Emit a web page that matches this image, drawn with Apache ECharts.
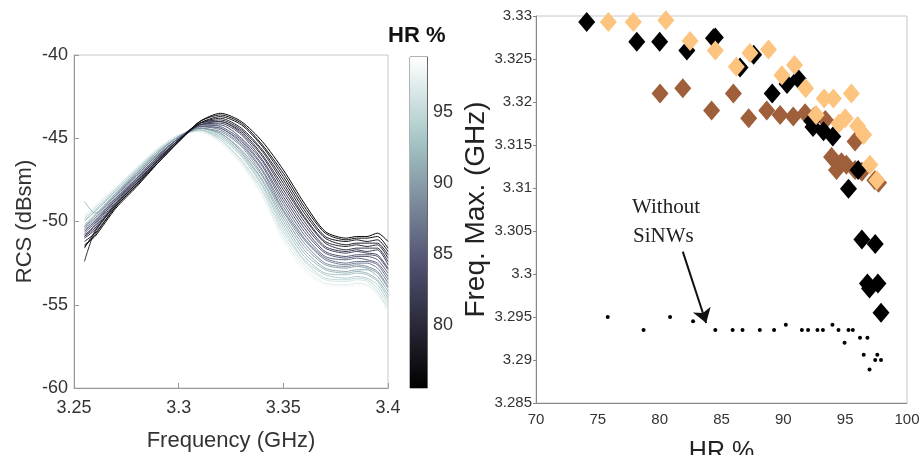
<!DOCTYPE html>
<html><head><meta charset="utf-8">
<script src="https://cdn.jsdelivr.net/npm/echarts@6/dist/echarts.min.js"></script>
<style>html,body{margin:0;padding:0;background:#fff}#c{width:919px;height:455px}</style>
</head><body><div id="c"></div>
<script>
// ---------- Left panel: RCS spectra ----------
const freqs = [3.255,3.26,3.27,3.28,3.29,3.30,3.31,3.32,3.33,3.34,3.35,3.36,3.37,3.38,3.385,3.39,3.395,3.4];
const curveHR = [76,77,78,79,80,81,82,83,84,85,86,87,88,89,90,91,92,93,94,95,96,97,98];
const rcsValues = [
 [-51.4,-50.9,-49.2,-47.9,-46.5,-45.2,-44.0,-43.5,-44.0,-45.2,-46.9,-48.9,-50.6,-51.0,-50.9,-50.9,-50.7,-51.2],
 [-51.5,-50.8,-49.1,-47.8,-46.5,-45.2,-44.0,-43.6,-44.1,-45.4,-47.1,-49.1,-50.7,-51.1,-51.0,-51.0,-50.9,-51.6],
 [-51.2,-50.7,-49.1,-47.8,-46.4,-45.2,-44.1,-43.7,-44.2,-45.5,-47.3,-49.3,-50.9,-51.2,-51.1,-51.2,-51.1,-51.8],
 [-51.6,-50.6,-49.0,-47.7,-46.4,-45.1,-44.1,-43.8,-44.4,-45.7,-47.5,-49.5,-51.0,-51.4,-51.3,-51.3,-51.3,-52.0],
 [-52.4,-50.6,-49.0,-47.7,-46.3,-45.1,-44.1,-43.9,-44.5,-45.8,-47.7,-49.7,-51.2,-51.5,-51.4,-51.5,-51.4,-52.2],
 [-51.0,-50.5,-48.9,-47.6,-46.3,-45.1,-44.1,-44.0,-44.6,-46.0,-47.9,-49.8,-51.3,-51.7,-51.6,-51.6,-51.6,-52.4],
 [-50.9,-50.4,-48.9,-47.6,-46.3,-45.1,-44.2,-44.0,-44.7,-46.1,-48.1,-50.0,-51.5,-51.8,-51.7,-51.8,-51.7,-52.6],
 [-50.8,-50.3,-48.8,-47.5,-46.2,-45.1,-44.2,-44.1,-44.8,-46.3,-48.3,-50.2,-51.6,-51.9,-51.8,-51.9,-52.0,-52.8],
 [-50.9,-50.2,-48.7,-47.5,-46.2,-45.1,-44.2,-44.2,-45.0,-46.4,-48.5,-50.4,-51.8,-52.1,-52.0,-52.0,-52.1,-52.9],
 [-50.7,-50.1,-48.7,-47.4,-46.1,-45.0,-44.2,-44.3,-45.1,-46.6,-48.7,-50.6,-51.9,-52.2,-52.1,-52.1,-52.3,-53.1],
 [-50.6,-50.0,-48.6,-47.4,-46.1,-45.0,-44.3,-44.4,-45.2,-46.7,-48.9,-50.8,-52.1,-52.3,-52.2,-52.3,-52.5,-53.3],
 [-50.5,-50.0,-48.6,-47.3,-46.1,-45.0,-44.3,-44.4,-45.3,-46.9,-49.1,-51.0,-52.2,-52.5,-52.4,-52.4,-52.6,-53.5],
 [-50.4,-49.9,-48.5,-47.2,-46.0,-45.0,-44.3,-44.5,-45.4,-47.0,-49.3,-51.1,-52.3,-52.6,-52.5,-52.5,-52.8,-53.7],
 [-50.3,-49.8,-48.4,-47.2,-46.0,-45.0,-44.4,-44.6,-45.5,-47.2,-49.4,-51.3,-52.5,-52.7,-52.6,-52.7,-53.0,-53.9],
 [-50.3,-49.7,-48.4,-47.1,-45.9,-44.9,-44.4,-44.7,-45.7,-47.3,-49.6,-51.5,-52.6,-52.8,-52.7,-52.8,-53.1,-54.0],
 [-50.2,-49.6,-48.3,-47.1,-45.9,-44.9,-44.4,-44.7,-45.8,-47.5,-49.8,-51.7,-52.8,-53.0,-52.9,-52.9,-53.3,-54.2],
 [-48.8,-49.5,-48.3,-47.0,-45.8,-44.9,-44.4,-44.8,-45.9,-47.6,-50.0,-51.9,-52.9,-53.1,-53.0,-53.1,-53.5,-54.4],
 [-50.0,-49.4,-48.2,-47.0,-45.8,-44.9,-44.5,-44.9,-46.0,-47.8,-50.2,-52.1,-53.1,-53.2,-53.1,-53.2,-53.6,-54.6],
 [-49.9,-49.4,-48.1,-46.9,-45.8,-44.9,-44.5,-45.0,-46.1,-47.9,-50.4,-52.3,-53.2,-53.4,-53.3,-53.4,-53.8,-54.8],
 [-49.8,-49.3,-48.1,-46.9,-45.7,-44.9,-44.5,-45.1,-46.3,-48.1,-50.6,-52.4,-53.4,-53.5,-53.4,-53.5,-54.0,-55.0],
 [-49.8,-49.2,-48.0,-46.8,-45.7,-44.8,-44.5,-45.1,-46.4,-48.2,-50.8,-52.6,-53.5,-53.6,-53.5,-53.6,-54.2,-55.2],
 [-49.7,-49.1,-48.0,-46.8,-45.6,-44.8,-44.6,-45.2,-46.5,-48.4,-51.0,-52.8,-53.7,-53.8,-53.7,-53.8,-54.3,-55.3],
 [-49.6,-49.0,-47.9,-46.7,-45.6,-44.8,-44.6,-45.3,-46.6,-48.5,-51.2,-53.0,-53.8,-53.9,-53.8,-53.9,-54.4,-55.5]
];
const freqTicks = [3.25, 3.4, 0.05];
const rcsTicks = [-60, -40, 5];
const hrRange = [75.6, 98.9];
const colorbarTicks = [80, 85, 90, 95];

// ---------- Right panel: frequency of maximum vs HR ----------
const blackPts = [
 [74.1,3.3293],[78.15,3.3270],[80.0,3.3270],[82.2,3.3260],[84.35,3.3274],[84.5,3.3275],
 [86.5,3.3240],[87.6,3.3255],[89.1,3.3210],[90.3,3.3221],[91.2,3.3227],[92.3,3.3178],
 [92.4,3.3171],[93.25,3.3166],[94.0,3.3160],[95.27,3.3099],[96.05,3.3121],[96.35,3.3040],
 [97.43,3.3035],[96.8,3.2989],[97.65,3.2989],[96.97,3.2983],[97.9,3.2955]
];
const orangePts = [
 [75.85,3.3293],[77.87,3.3293],[80.5,3.3295],[82.46,3.3271],[84.5,3.3260],[86.2,3.3241],
 [87.3,3.3257],[88.8,3.3261],[89.88,3.3231],[90.9,3.3243],[91.8,3.3216],[92.65,3.3185],
 [93.3,3.3204],[94.05,3.3204],[95.5,3.3210],[94.5,3.3175],[95.0,3.3181],[96.0,3.3172],
 [96.5,3.3162],[97.0,3.3127],[97.56,3.3109]
];
const brownPts = [
 [80.03,3.3210],[81.87,3.3216],[84.2,3.3190],[85.96,3.3210],[87.2,3.3181],[88.66,3.3190],
 [89.74,3.3185],[90.8,3.3183],[91.76,3.3187],[92.5,3.3183],[93.4,3.3179],[93.9,3.3136],
 [94.3,3.3121],[94.7,3.3130],[95.1,3.3127],[95.8,3.3121],[95.8,3.3154],[96.35,3.3119],
 [97.4,3.3109],[97.7,3.3106]
];
const dotPts = [
 [75.8,3.2950],[78.7,3.2935],[80.84,3.2950],[82.7,3.2945],[84.5,3.2935],[85.9,3.2935],
 [86.7,3.2935],[88.1,3.2935],[89.25,3.2935],[90.2,3.2941],[91.5,3.2935],[92.0,3.2935],
 [92.76,3.2935],[93.2,3.2935],[93.97,3.2941],[94.46,3.2935],[95.27,3.2935],[95.62,3.2935],
 [94.95,3.2920],[96.2,3.2926],[96.8,3.2926],[96.5,3.2906],[97.6,3.2906],[97.43,3.2900],
 [97.9,3.2900],[96.97,3.2889]
];
const arrowFrom = [81.87, 3.3026];
const arrowTo = [83.76, 3.2943];
const hrTicks = [70, 100, 5];
const fmaxTicks = [3.285, 3.33, 0.005];

// bone colormap
const boneStops = [[0,[0,0,0]],[0.375,[81,81,113]],[0.75,[166,198,198]],[1,[255,255,255]]];
function bone(t){
  t = Math.max(0, Math.min(1, t));
  for (let i=1;i<boneStops.length;i++){
    const [t1,c1]=boneStops[i], [t0,c0]=boneStops[i-1];
    if (t<=t1){ const k=(t-t0)/(t1-t0);
      return 'rgb('+c0.map((v,j)=>Math.round(v+(c1[j]-v)*k)).join(',')+')'; }
  }
  return 'rgb(255,255,255)';
}

const SANS = '"Liberation Sans", Arial, sans-serif';
const series = [];
for (let i = curveHR.length-1; i >= 0; i--) {
  const t = (curveHR[i]-hrRange[0])/(hrRange[1]-hrRange[0]);
  series.push({
    type:'line', xAxisIndex:0, yAxisIndex:0, showSymbol:false, smooth:0.25, silent:true,
    data: freqs.map((f,j)=>[f, rcsValues[i][j]]),
    lineStyle:{color:bone(t), width:1}
  });
}
// colorbar (stacked bar with gradient)
series.push({type:'bar', xAxisIndex:1, yAxisIndex:1, stack:'cb', barWidth:'100%', silent:true,
  data:[hrRange[0]], itemStyle:{color:'rgba(0,0,0,0)'}});
series.push({type:'bar', xAxisIndex:1, yAxisIndex:1, stack:'cb', barWidth:'100%', silent:true,
  data:[hrRange[1]-hrRange[0]],
  itemStyle:{color:new echarts.graphic.LinearGradient(0,1,0,0,
    boneStops.map(s=>({offset:s[0], color:'rgb('+s[1].join(',')+')'})))}});
// scatter
const dia = [17, 20];
series.push({type:'scatter', xAxisIndex:2, yAxisIndex:2, symbol:'diamond', symbolSize:dia, data:brownPts,
  itemStyle:{color:'#9e5f3a', opacity:1}, silent:true});
series.push({type:'scatter', xAxisIndex:2, yAxisIndex:2, symbol:'diamond', symbolSize:dia, data:blackPts,
  itemStyle:{color:'#000', opacity:1}, silent:true});
series.push({type:'scatter', xAxisIndex:2, yAxisIndex:2, symbol:'diamond', symbolSize:dia, data:orangePts,
  itemStyle:{color:'#fdc47f', opacity:1}, silent:true});
series.push({type:'scatter', xAxisIndex:2, yAxisIndex:2, symbol:'circle', symbolSize:4, data:dotPts,
  itemStyle:{color:'#000', opacity:1}, silent:true,
  markLine:{silent:true, symbol:['none','arrow'], symbolSize:14, label:{show:false},
    lineStyle:{color:'#111', width:2, type:'solid'},
    emphasis:{disabled:true},
    data:[[{coord:arrowFrom},{coord:arrowTo}]]}});

const fmt = d => v => String(+v.toFixed(d));
const option = {
  animation:false,
  textStyle:{fontFamily:SANS},
  title:{text:'HR %', left:383, top:20, textStyle:{fontSize:22, fontWeight:'bold', color:'#111', fontFamily:SANS}},
  grid:[
    {left:74, top:55, width:314, height:333, show:true, borderColor:'#c8c8c8', borderWidth:1, outerBoundsMode:'none', containLabel:false},
    {left:410, top:57, width:17, height:331, show:true, borderColor:'#666', borderWidth:1, outerBoundsMode:'none', containLabel:false},
    {left:536, top:16, width:371, height:387, show:true, borderColor:'#c8c8c8', borderWidth:1, outerBoundsMode:'none', containLabel:false}
  ],
  xAxis:[
    {type:'value', gridIndex:0, min:freqTicks[0], max:freqTicks[1], interval:freqTicks[2],
     name:'Frequency (GHz)', nameLocation:'middle', nameGap:42,
     nameTextStyle:{fontSize:22, color:'#333'},
     axisLine:{lineStyle:{color:'#999'}}, axisTick:{inside:true, length:5, lineStyle:{color:'#999'}},
     axisLabel:{fontSize:18, color:'#333', margin:11, formatter:fmt(2)}, splitLine:{show:false}},
    {type:'category', gridIndex:1, data:['cb'], show:false},
    {type:'value', gridIndex:2, min:hrTicks[0], max:hrTicks[1], interval:hrTicks[2],
     name:'HR %', nameLocation:'middle', nameGap:37,
     nameTextStyle:{fontSize:25, color:'#222'},
     axisLine:{lineStyle:{color:'#888'}}, axisTick:{show:false},
     axisLabel:{fontSize:15, color:'#333', margin:9}, splitLine:{show:false}}
  ],
  yAxis:[
    {type:'value', gridIndex:0, min:rcsTicks[0], max:rcsTicks[1], interval:rcsTicks[2],
     name:'RCS (dBsm)', nameLocation:'middle', nameGap:38,
     nameTextStyle:{fontSize:22, color:'#333'},
     axisLine:{lineStyle:{color:'#999'}}, axisTick:{inside:true, length:5, lineStyle:{color:'#999'}},
     axisLabel:{fontSize:18, color:'#333', margin:6}, splitLine:{show:false}},
    {type:'value', gridIndex:1, position:'right', min:hrRange[0], max:hrRange[1],
     axisLine:{show:true, lineStyle:{color:'#666'}},
     axisTick:{show:true, inside:true, length:3, customValues:colorbarTicks, lineStyle:{color:'#666'}},
     axisLabel:{fontSize:18, color:'#333', margin:6, customValues:colorbarTicks}, splitLine:{show:false}},
    {type:'value', gridIndex:2, min:fmaxTicks[0], max:fmaxTicks[1], interval:fmaxTicks[2],
     name:'Freq. Max. (GHz)', nameLocation:'middle', nameGap:43,
     nameTextStyle:{fontSize:28, color:'#222'},
     axisLine:{lineStyle:{color:'#888'}}, axisTick:{show:true, length:3, lineStyle:{color:'#888'}},
     axisLabel:{fontSize:15, color:'#333', margin:4, formatter:fmt(3)}, splitLine:{show:false}}
  ],
  graphic:[
    {type:'text', left:632, top:197, silent:true,
     style:{text:'Without', font:'21px "Liberation Serif", "Times New Roman", serif', fill:'#222'}},
    {type:'text', left:633, top:226, silent:true,
     style:{text:'SiNWs', font:'21px "Liberation Serif", "Times New Roman", serif', fill:'#222'}}
  ],
  series
};
const chart = echarts.init(document.getElementById('c'), null, {renderer:'canvas'});
chart.setOption(option);
</script></body></html>
